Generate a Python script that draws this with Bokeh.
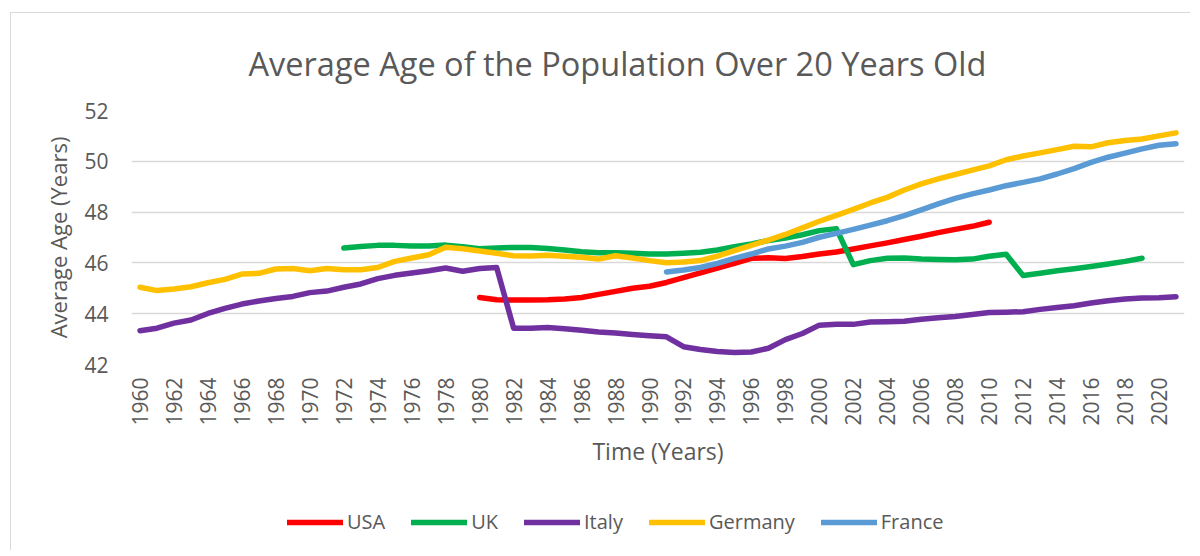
import math
from bokeh.plotting import figure
from bokeh.layouts import column
from bokeh.models import (FixedTicker, Legend, LegendItem, Title, InlineStyleSheet)
from bokeh.embed import file_html
from bokeh.resources import INLINE

# ---------------- data ----------------
usa_years = list(range(1980, 2011))
usa = [44.64, 44.55, 44.54, 44.54, 44.55, 44.58, 44.64, 44.76, 44.88, 45.00,
       45.08, 45.23, 45.42, 45.61, 45.80, 45.98, 46.18, 46.20, 46.17, 46.25,
       46.35, 46.43, 46.55, 46.67, 46.79, 46.92, 47.05, 47.19, 47.32, 47.44,
       47.60]

uk_years = list(range(1972, 2020))
uk = [46.59, 46.65, 46.69, 46.69, 46.67, 46.67, 46.70, 46.64, 46.56, 46.59,
      46.61, 46.61, 46.57, 46.51, 46.44, 46.40, 46.40, 46.38, 46.35, 46.35,
      46.38, 46.42, 46.51, 46.64, 46.75, 46.88, 46.98, 47.11, 47.27, 47.35,
      45.93, 46.09, 46.18, 46.19, 46.15, 46.13, 46.12, 46.15, 46.26, 46.34,
      45.50, 45.59, 45.69, 45.77, 45.86, 45.96, 46.06, 46.18]

italy_years = list(range(1960, 2022))
italy = [43.33, 43.43, 43.63, 43.75, 44.01, 44.21, 44.38, 44.50, 44.60, 44.68,
         44.83, 44.89, 45.04, 45.17, 45.38, 45.51, 45.60, 45.69, 45.80, 45.67,
         45.78, 45.82, 43.43, 43.43, 43.46, 43.41, 43.35, 43.28, 43.24, 43.18,
         43.13, 43.09, 42.70, 42.59, 42.51, 42.47, 42.49, 42.64, 42.98, 43.22,
         43.55, 43.58, 43.58, 43.67, 43.68, 43.70, 43.78, 43.84, 43.89, 43.97,
         44.05, 44.06, 44.08, 44.17, 44.24, 44.31, 44.42, 44.51, 44.58, 44.62,
         44.63, 44.67]

germany_years = list(range(1960, 2022))
germany = [45.04, 44.91, 44.97, 45.06, 45.22, 45.35, 45.56, 45.59, 45.76, 45.78,
           45.69, 45.78, 45.73, 45.73, 45.82, 46.06, 46.19, 46.32, 46.62, 46.56,
           46.47, 46.38, 46.28, 46.27, 46.30, 46.26, 46.22, 46.15, 46.28, 46.19,
           46.09, 46.01, 46.04, 46.09, 46.27, 46.48, 46.69, 46.90, 47.12, 47.38,
           47.64, 47.87, 48.11, 48.36, 48.58, 48.87, 49.11, 49.31, 49.48, 49.65,
           49.82, 50.06, 50.21, 50.33, 50.46, 50.59, 50.57, 50.73, 50.82, 50.88,
           51.00, 51.12]

france_years = list(range(1991, 2022))
france = [45.64, 45.72, 45.82, 45.98, 46.18, 46.35, 46.55, 46.66, 46.81, 47.01,
          47.16, 47.32, 47.49, 47.66, 47.86, 48.09, 48.32, 48.54, 48.72, 48.87,
          49.04, 49.17, 49.31, 49.50, 49.71, 49.96, 50.16, 50.32, 50.49, 50.63,
          50.69]

series_names = ["USA", "UK", "Italy", "Germany", "France"]
series_colors = ["#FF0000", "#00B050", "#7030A0", "#FFC000", "#5B9BD5"]
x_ticks = list(range(1960, 2021, 2))
y_ticks = [42, 44, 46, 48, 50, 52]

title_text = "Average Age of the Population Over 20 Years Old"
x_label = "Time (Years)"
y_label = "Average Age (Years)"

# ---------------- figure ----------------
FONT = "Open Sans"
GREY = "#595959"

css_top = InlineStyleSheet(css=":host { border-left: 1px solid #d9d9d9; border-top: 1px solid #d9d9d9; }")
css_side = InlineStyleSheet(css=":host { border-left: 1px solid #d9d9d9; }")

p = figure(width=1180, height=466, output_backend="svg", toolbar_location=None,
           x_range=(1959.5, 2021.5), y_range=(42, 52),
           min_border_left=120, min_border_right=7, min_border_top=97,
           min_border_bottom=115)
p.stylesheets = [css_top]
p.margin = (12, 0, 0, 10)
p.outline_line_color = None
p.background_fill_color = "white"
p.border_fill_color = "white"

t = Title(text=title_text, align="left", offset=117, text_font=FONT,
          text_font_size="32.5px", text_font_style="normal", text_color=GREY,
          standoff=49)
p.add_layout(t, "above")

# grid
p.xgrid.grid_line_color = None
p.ygrid.grid_line_color = "#d9d9d9"
p.ygrid.grid_line_width = 1.3
p.ygrid.ticker = FixedTicker(ticks=y_ticks)

# axes
for ax in (p.xaxis[0], p.yaxis[0]):
    ax.axis_line_color = None
    ax.major_tick_line_color = None
    ax.minor_tick_line_color = None
    ax.major_tick_out = 0
    ax.major_tick_in = 0
    ax.minor_tick_out = 0
    ax.minor_tick_in = 0
    ax.major_label_text_font = FONT
    ax.major_label_text_font_size = "21px"
    ax.major_label_text_color = GREY
    ax.axis_label_text_font = FONT
    ax.axis_label_text_font_style = "normal"
    ax.axis_label_text_color = GREY

p.xaxis.ticker = FixedTicker(ticks=x_ticks)
p.xaxis.major_label_orientation = math.pi / 2
p.xaxis.major_label_standoff = 13
p.xaxis.axis_label = x_label
p.xaxis.axis_label_standoff = 6
p.xaxis.axis_label_text_font_size = "23px"

p.yaxis.ticker = FixedTicker(ticks=y_ticks)
p.yaxis.major_label_standoff = 23
p.yaxis.axis_label = y_label
p.yaxis.axis_label_standoff = 8
p.yaxis.axis_label_text_font_size = "22px"

# lines
data = [(usa_years, usa), (uk_years, uk), (italy_years, italy),
        (germany_years, germany), (france_years, france)]
for (xs, ys), name, col in zip(data, series_names, series_colors):
    p.line(xs, ys, line_color=col, line_width=5.5, line_join="round",
           line_cap="round")

# ---------------- legend strip ----------------
p2 = figure(width=1180, height=72, output_backend="svg", toolbar_location=None,
            x_axis_type=None, y_axis_type=None,
            x_range=(1959.5, 2021.5), y_range=(42, 52),
            min_border_left=0, min_border_right=0, min_border_top=0,
            min_border_bottom=0)
p2.stylesheets = [css_side]
p2.margin = (0, 0, 0, 10)
p2.outline_line_color = None
p2.background_fill_color = "white"
p2.border_fill_color = "white"

items = []
for (xs, ys), name, col in zip(data, series_names, series_colors):
    r = p2.line(xs, ys, line_color=col, line_width=5.5, line_join="round",
                line_cap="round", visible=False)
    items.append(LegendItem(label=name, renderers=[r]))

legend = Legend(items=items, orientation="horizontal", location=(156, 15),
                border_line_color=None, background_fill_alpha=0,
                label_text_font=FONT, label_text_font_size="20px",
                label_text_color=GREY, glyph_width=56, glyph_height=20,
                label_standoff=4, spacing=26, margin=0, padding=0)
p2.add_layout(legend, "center")

layout = column(p, p2, spacing=0)
open("out.html", "w").write(file_html(layout, INLINE))
